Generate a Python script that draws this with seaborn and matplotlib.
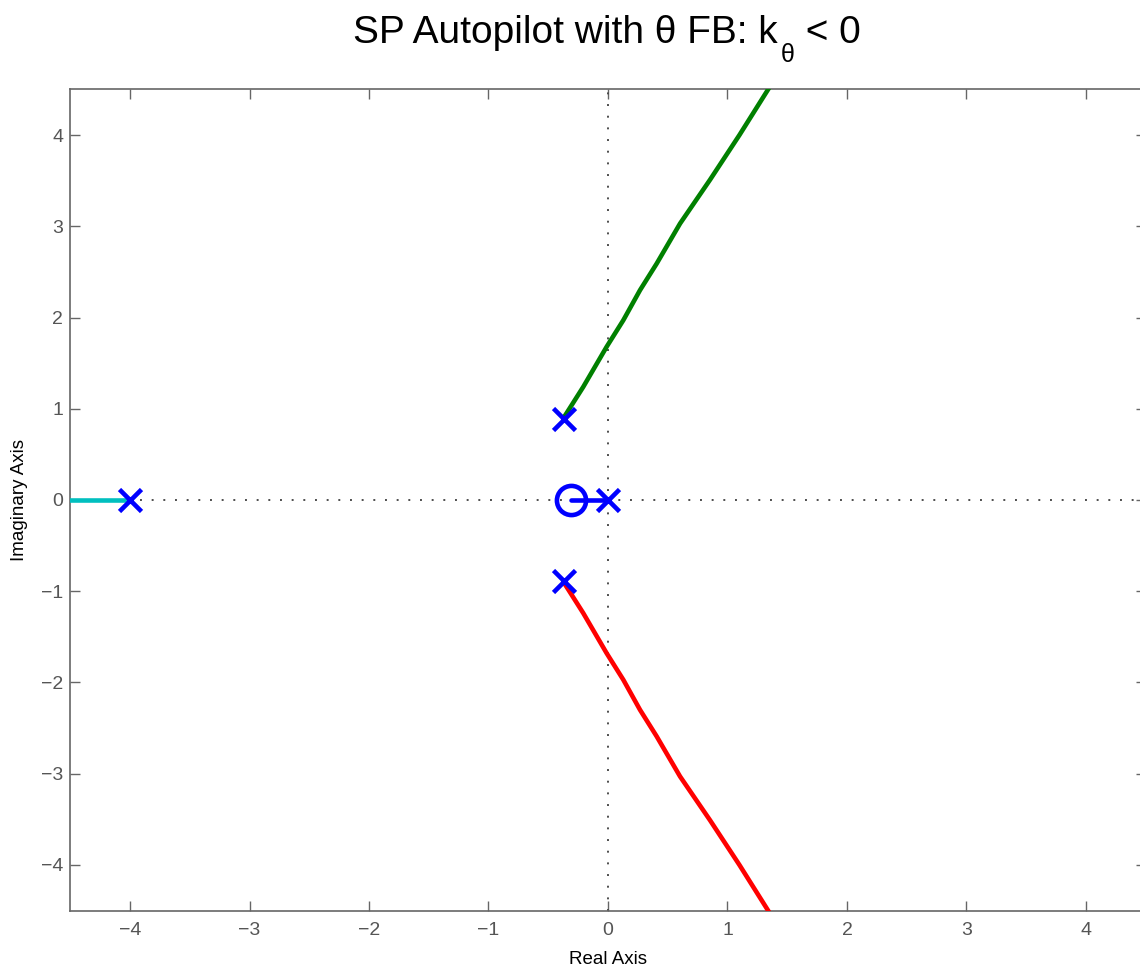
import matplotlib
matplotlib.use("Agg")
import matplotlib.pyplot as plt
import seaborn as sns
import pandas as pd

# ---- data ----
pole_re = [-4.0, 0.0, -0.37, -0.37]
pole_im = [0.0, 0.0, 0.89, -0.89]
zero_re = [-0.31]
zero_im = [0.0]

# locus branches
green_re = [-0.374, -0.207, -0.011, 0.128, 0.268, 0.407, 0.603, 0.854, 1.10, 1.34, 1.40]
green_im = [0.895, 1.24, 1.68, 1.97, 2.30, 2.59, 3.03, 3.51, 4.00, 4.50, 4.62]
red_re = green_re
red_im = [-v for v in green_im]
blue_re = [0.0, -0.31]
blue_im = [0.0, 0.0]
cyan_re = [-4.0, -4.6]
cyan_im = [0.0, 0.0]

xticks = [-4, -3, -2, -1, 0, 1, 2, 3, 4]
yticks = [-4, -3, -2, -1, 0, 1, 2, 3, 4]

sns.set_style("white")
plt.rcParams['font.family'] = ['Liberation Sans', 'DejaVu Sans']

W, H = 1140, 969
fig = plt.figure(figsize=(W / 100, H / 100), dpi=100)
x0, x1 = 70.25, 1145.75
y0, y1 = 89.4, 910.6
ax = fig.add_axes([x0 / W, (H - y1) / H, (x1 - x0) / W, (y1 - y0) / H])

ax.set_xlim(-4.5, 4.5)
ax.set_ylim(-4.5, 4.5)

# dotted axis lines
ax.axhline(0, color='#4d4d4d', ls=(0, (1, 5)), lw=1.4, zorder=1)
ax.axvline(0, color='#4d4d4d', ls=(0, (1, 5)), lw=1.4, zorder=1)

def branch(xs, ys, color):
    df = pd.DataFrame({'re': xs, 'im': ys})
    sns.lineplot(data=df, x='re', y='im', sort=False, estimator=None,
                 color=color, lw=3.3, ax=ax, zorder=3)

branch(green_re, green_im, '#008000')
branch(red_re, red_im, '#FF0000')
branch(cyan_re, cyan_im, '#00BFBF')
branch(blue_re, blue_im, '#0000FF')

ax.plot(pole_re, pole_im, ls='none', marker='x', ms=16, mew=3.3, color='#0000FF', zorder=5, clip_on=False)
ax.plot(zero_re, zero_im, ls='none', marker='o', ms=21, mew=3.3, mfc='none', mec='#0000FF', zorder=5)

ax.set_xticks(xticks)
ax.set_yticks(yticks)
ax.set_xticklabels([str(t).replace('-', '\u2212') for t in xticks])
ax.set_yticklabels([str(t).replace('-', '\u2212') for t in yticks])
ax.tick_params(direction='in', length=7.5, width=1, color='#666666', labelcolor='#555555',
               labelsize=14, top=True, right=True, bottom=True, left=True)
ax.tick_params(axis='x', pad=8)
ax.tick_params(axis='y', pad=5)
for s in ax.spines.values():
    s.set_color('#666666')
    s.set_linewidth(1.2)

ax.set_xlabel('Real Axis', fontsize=13.5, color='black')
ax.set_ylabel('Imaginary Axis', fontsize=13.5, color='black')
ax.xaxis.set_label_coords(0.5, -0.049)
ax.yaxis.set_label_coords(-0.039, 0.5)

# title with large, low subscript (built from pieces)
fig.canvas.draw()
r = fig.canvas.get_renderer()
base = 1 - 42.7 / H
sub_base = 1 - 62.0 / H
t1 = fig.text(0, base, 'SP Autopilot with \u03b8 FB: k', fontsize=28, va='baseline', ha='left', color='black')
b1 = t1.get_window_extent(r)
t2 = fig.text((b1.x1 + 3) / W, sub_base, '\u03b8', fontsize=18, va='baseline', ha='left', color='black')
b2 = t2.get_window_extent(r)
t3 = fig.text((b2.x1) / W, base, ' < 0', fontsize=28, va='baseline', ha='left', color='black')
b3 = t3.get_window_extent(r)
total_left, total_right = b1.x0, b3.x1
shift = (607.0 - (total_left + total_right) / 2) / W
for t in (t1, t2, t3):
    px, py = t.get_position()
    t.set_position((px + shift, py))

fig.savefig('out.png', dpi=100)
